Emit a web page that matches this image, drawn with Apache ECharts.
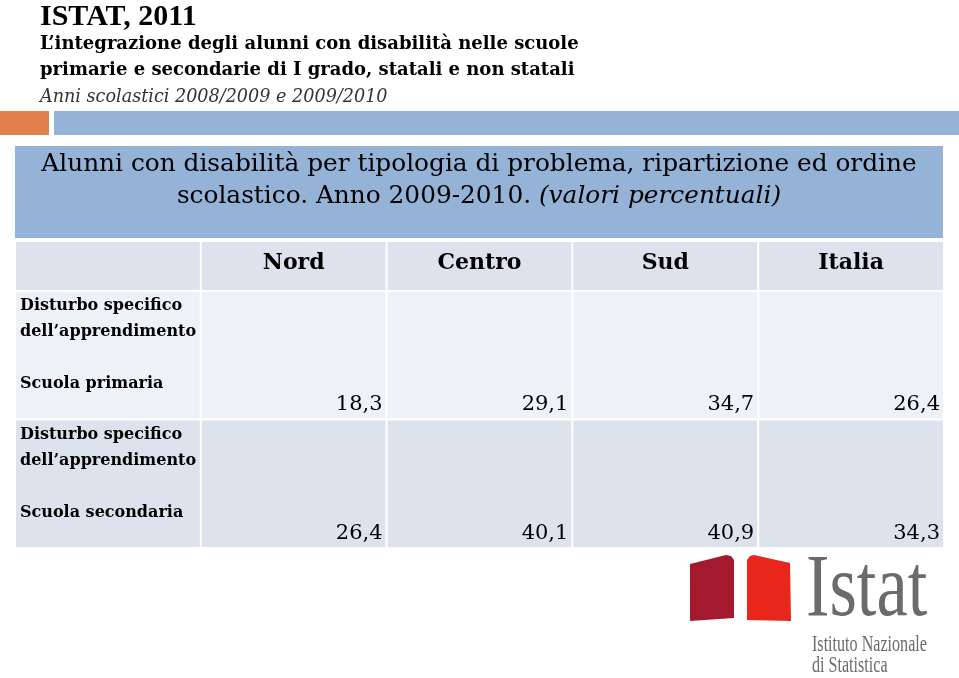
<!DOCTYPE html>
<html>
<head>
<meta charset="utf-8">
<script src="https://cdn.jsdelivr.net/npm/echarts@6/dist/echarts.min.js"></script>
<style>html,body{margin:0;padding:0;background:#fff;}#main{width:959px;height:678px;}</style>
</head>
<body>
<div id="main"></div>
<script>
// ---- data ----
const columns = ['Nord', 'Centro', 'Sud', 'Italia'];
const rowKeys = ['primaria', 'secondaria'];
const rowLabels = [
  'Disturbo specifico\ndell\u2019apprendimento\n\nScuola primaria',
  'Disturbo specifico\ndell\u2019apprendimento\n\nScuola secondaria'
];
const primaria = [18.3, 29.1, 34.7, 26.4];
const secondaria = [26.4, 40.1, 40.9, 34.3];

const titleMain = 'ISTAT, 2011';
const titleSub1 = 'L\u2019integrazione degli alunni con disabilità nelle scuole';
const titleSub2 = 'primarie e secondarie di I grado, statali e non statali';
const titleSub3 = 'Anni scolastici 2008/2009 e 2009/2010';
const tableTitle1 = 'Alunni con disabilità per tipologia di problema, ripartizione ed ordine';
const tableTitle2a = 'scolastico. Anno 2009-2010. ';
const tableTitle2b = '(valori percentuali)';

// ---- build ----
const serif = '"Liberation Serif", "DejaVu Serif", serif';
const dserif = '"DejaVu Serif", "Liberation Serif", serif';
const xCats = [''].concat(columns);
const headerData = xCats.map((c, i) => [i, 0]);
const bodyData = [];
[primaria, secondaria].forEach((arr, r) => {
  bodyData.push([0, r, NaN]);
  arr.forEach((v, i) => bodyData.push([i + 1, r, v]));
});
const fmt = v => v.toFixed(1).replace('.', ',');

const chart = echarts.init(document.getElementById('main'));
chart.setOption({
  backgroundColor: '#ffffff',
  animation: false,
  grid: [
    { left: 15, top: 242, width: 929, height: 50 },
    { left: 15, top: 292, width: 929, height: 257 }
  ],
  xAxis: [
    { type: 'category', data: xCats, gridIndex: 0, show: false },
    { type: 'category', data: xCats, gridIndex: 1, show: false }
  ],
  yAxis: [
    { type: 'category', data: ['header'], gridIndex: 0, show: false },
    { type: 'category', data: rowKeys, gridIndex: 1, show: false, inverse: true }
  ],
  series: [
    {
      type: 'custom', xAxisIndex: 0, yAxisIndex: 0, data: headerData,
      renderItem: function (params, api) {
        const c = api.value(0);
        const p = api.coord([c, 0]);
        const s = api.size([1, 1]);
        const x0 = p[0] - s[0] / 2, y0 = p[1] - s[1] / 2;
        return {
          type: 'group',
          children: [
            { type: 'rect', shape: { x: x0 + 1, y: y0, width: s[0] - 2, height: s[1] - 2 }, style: { fill: '#dce3ed' } },
            { type: 'text', style: { text: xCats[c], x: p[0], y: y0 + 21, align: 'center', verticalAlign: 'middle',
              font: 'bold 22px ' + dserif, fill: '#000' } }
          ]
        };
      }
    },
    {
      type: 'custom', xAxisIndex: 1, yAxisIndex: 1, data: bodyData,
      renderItem: function (params, api) {
        const c = api.value(0), r = api.value(1);
        const p = api.coord([c, r]);
        const s = api.size([1, 1]);
        const x0 = p[0] - s[0] / 2, y0 = p[1] - s[1] / 2;
        const fill = r === 0 ? '#eef2f7' : '#dce3ed';
        const children = [
          { type: 'rect', shape: { x: x0 + 1, y: y0, width: s[0] - 2, height: s[1] - 2 }, style: { fill: fill } }
        ];
        if (c === 0) {
          children.push({ type: 'text', style: { text: rowLabels[r], x: x0 + 5, y: y0 + 1, align: 'left', verticalAlign: 'top',
            font: 'bold 16px ' + dserif, lineHeight: 26, fill: '#000' } });
        } else {
          children.push({ type: 'text', style: { text: fmt(api.value(2)), x: x0 + s[0] - 4, y: y0 + s[1] - 5, align: 'right', verticalAlign: 'bottom',
            font: '21px ' + dserif, fill: '#000' } });
        }
        return { type: 'group', children: children };
      }
    }
  ],
  graphic: [
    { type: 'text', left: 40, top: 2, style: { text: titleMain, font: 'bold 30px ' + serif, fill: '#000' } },
    { type: 'text', left: 40, top: 35, style: { text: titleSub1, font: 'bold 18px ' + dserif, fill: '#000' } },
    { type: 'text', left: 40, top: 61, style: { text: titleSub2, font: 'bold 18px ' + dserif, fill: '#000' } },
    { type: 'text', left: 40, top: 88, style: { text: titleSub3, font: 'italic 17.6px ' + dserif, fill: '#333' } },
    { type: 'rect', shape: { x: 0, y: 111, width: 49, height: 24 }, style: { fill: '#e0804c' } },
    { type: 'rect', shape: { x: 54, y: 111, width: 905, height: 24 }, style: { fill: '#95b3d7' } },
    { type: 'rect', shape: { x: 15, y: 146, width: 928, height: 92 }, style: { fill: '#95b3d7' } },
    { type: 'text', x: 479, y: 152, style: { text: tableTitle1, font: '24.8px ' + dserif, fill: '#000', align: 'center' } },
    { type: 'text', x: 479, y: 184, style: {
        text: '{n|' + tableTitle2a + '}{i|' + tableTitle2b + '}', align: 'center', fill: '#000',
        rich: { n: { font: '24.8px ' + dserif, fill: '#000' }, i: { font: 'italic 24.8px ' + dserif, fill: '#000' } } } },
    // Istat logo
    { type: 'polygon', shape: { points: [[690, 564], [726, 555], [731, 556], [734, 560], [734, 618], [690, 621]] }, style: { fill: '#a31a2e' } },
    { type: 'polygon', shape: { points: [[747, 560], [750, 556], [754, 555], [790, 563], [791, 621], [747, 620]] }, style: { fill: '#e8261b' } },
    { type: 'text', x: 806, y: 548, scaleX: 0.8, style: { text: 'Istat', font: '88px ' + serif, fill: '#6b6b6b' } },
    { type: 'text', x: 812, y: 633, scaleX: 0.7, style: { text: 'Istituto Nazionale', font: '23px ' + serif, fill: '#6b6b6b' } },
    { type: 'text', x: 812, y: 654, scaleX: 0.7, style: { text: 'di Statistica', font: '23px ' + serif, fill: '#6b6b6b' } }
  ]
});
</script>
</body>
</html>
